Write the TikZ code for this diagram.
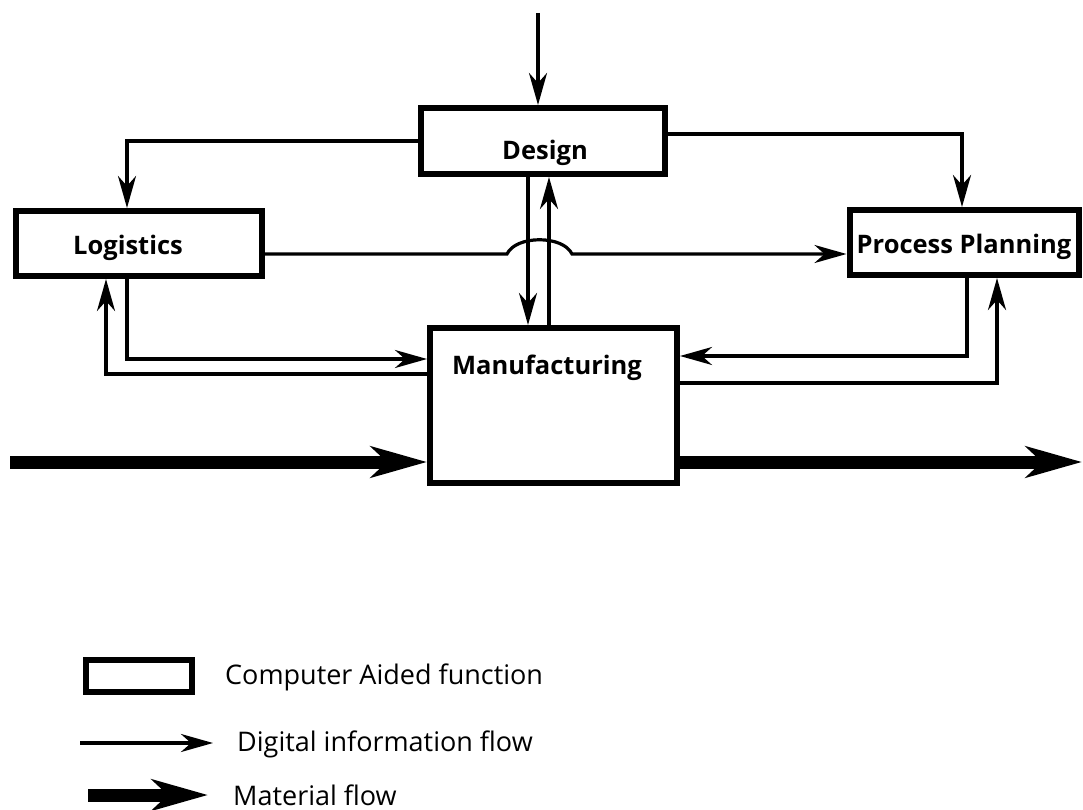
\documentclass[tikz,border=0pt]{standalone}
\usepackage{fontspec}
\setmainfont{Open Sans}
\usetikzlibrary{arrows.meta,calc}

\tikzset{
  x=1pt, y=-1pt,
  cabox/.style={draw, line width=6pt, outer sep=3pt, inner sep=0pt, fill=white},
  lbl/.style={font=\fontsize{25.5}{28}\selectfont\bfseries, inner sep=0pt},
  legtext/.style={font=\fontsize{27}{30}\selectfont, inner sep=0pt, anchor=west},
  info/.style={line width=3.2pt, -{Stealth[length=32pt,width=18pt,inset=10pt]}},
  material/.style={line width=13pt, -{Stealth[length=56pt,width=31pt,inset=16pt]}},
}

\begin{document}
\begin{tikzpicture}
\useasboundingbox (0,0) rectangle (1083,810);

% computer aided functions
\node[cabox, minimum width=244pt, minimum height=66pt] (design) at (543,141) {};
\node[cabox, minimum width=246pt, minimum height=65pt] (logistics) at (139,243.5) {};
\node[cabox, minimum width=229pt, minimum height=65pt] (planning) at (964,242.5) {};
\node[cabox, minimum width=247pt, minimum height=155pt] (manuf) at (553.5,405.5) {};

\node[lbl] (designlbl) at (545,153) {Design};
\node[lbl] (logisticslbl) at (128,248) {Logistics};
\node[lbl] (planninglbl) at (964,247) {Process Planning};
\node[lbl] (manuflbl) at (547,368) {Manufacturing};

% incoming information to design
\coordinate (src) at (538,13);
\draw[info] (src) -- (src |- design.north);

% design to logistics and process planning
\draw[info] (design.west) -| (logistics.north -| 127,0);
\draw[info] (design.east |- 0,134) -| (planning.north -| 962,0);

% design <-> manufacturing
\draw[info] (design.south -| 528,0) -- (manuf.north -| 528,0);
\draw[info] (manuf.north -| 549,0) -- (design.south -| 549,0);

% logistics to process planning, hopping over the vertical flows
\coordinate (hopA) at (507,254);
\coordinate (hopB) at (572,254);
\draw[info] (logistics.east |- 0,254) -- (hopA)
  .. controls (516,235) and (563,235) .. (hopB)
  -- (planning.west |- 0,254);

% logistics <-> manufacturing
\draw[info] (logistics.south -| 127,0) |- (manuf.west |- 0,359);
\draw[info] (manuf.west |- 0,374) -| (logistics.south -| 106,0);

% process planning <-> manufacturing
\draw[info] (planning.south -| 967,0) |- (manuf.east |- 0,356);
\draw[info] (manuf.east |- 0,383) -| (planning.south -| 997,0);

% material flow through manufacturing
\coordinate (matin) at (10,462);
\coordinate (matout) at (1082,462);
\draw[material] (matin) -- (manuf.west |- matin);
\draw[material] (manuf.east |- matout) -- (matout);

% legend
\node[cabox, minimum width=106pt, minimum height=32pt] (legbox) at (139,676) {};
\node[legtext] (legboxtext) at (225,677) {Computer Aided function};
\coordinate (lia) at (80,743);
\coordinate (lib) at (213,743);
\draw[info] (lia) -- (lib);
\node[legtext] (legintext) at (237,744) {Digital information flow};
\coordinate (lma) at (88,795);
\coordinate (lmb) at (208,795);
\draw[material] (lma) -- (lmb);
\node[legtext] (legmattext) at (233,795) {Material flow};
\end{tikzpicture}
\end{document}
